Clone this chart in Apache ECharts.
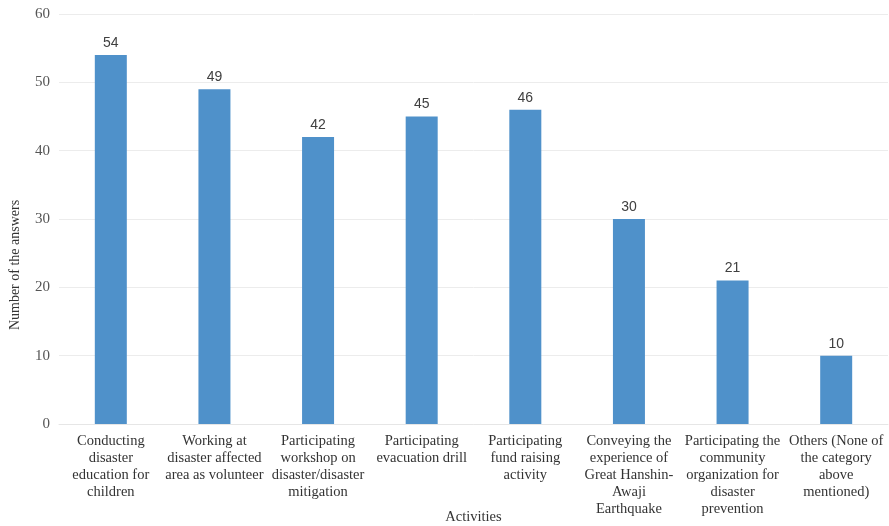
<!DOCTYPE html>
<html>
<head>
<meta charset="utf-8">
<script src="https://cdn.jsdelivr.net/npm/echarts@6/dist/echarts.min.js"></script>
<style>
  html, body { margin: 0; padding: 0; background: #fff; }
  #chart { width: 889px; height: 526px; }
</style>
</head>
<body>
<div id="chart"></div>
<script>
var categories = [
    'Conducting\ndisaster\neducation for\nchildren',
    'Working at\ndisaster affected\narea as volunteer',
    'Participating\nworkshop on\ndisaster/disaster\nmitigation',
    'Participating\nevacuation drill',
    'Participating\nfund raising\nactivity',
    'Conveying the\nexperience of\nGreat Hanshin-\nAwaji\nEarthquake',
    'Participating the\ncommunity\norganization for\ndisaster\nprevention',
    'Others (None of\nthe category\nabove\nmentioned)'
];
var answers = [54, 49, 42, 45, 46, 30, 21, 10];
var yTicks = { min: 0, max: 60, interval: 10 };

var myChart = echarts.init(document.getElementById('chart'));

var option = {
    animation: false,
    grid: {
        left: 59,
        right: 1,
        top: 14,
        bottom: 102,
        containLabel: false,
        outerBoundsMode: 'none'
    },
    graphic: [{
        // y axis title sits lower than the plot centre in the original
        type: 'text',
        x: 15,
        y: 265,
        rotation: Math.PI / 2,
        style: {
            text: 'Number of the answers',
            fontFamily: 'Liberation Serif',
            fontSize: 14,
            fill: '#333',
            align: 'center',
            verticalAlign: 'middle'
        }
    }],
    xAxis: {
        type: 'category',
        data: categories,
        name: 'Activities',
        nameLocation: 'middle',
        nameGap: 86,
        nameMoveOverlap: false,
        nameTextStyle: {
            fontFamily: 'Liberation Serif',
            fontSize: 14.5,
            color: '#333'
        },
        axisLine: {
            lineStyle: { color: '#e6e6e6' }
        },
        axisTick: { show: false },
        axisLabel: {
            interval: 0,
            margin: 9,
            fontFamily: 'Liberation Serif',
            fontSize: 14.5,
            lineHeight: 17,
            color: '#333'
        }
    },
    yAxis: {
        type: 'value',
        min: yTicks.min,
        max: yTicks.max,
        interval: yTicks.interval,
        axisLine: { show: false },
        axisTick: { show: false },
        splitLine: {
            lineStyle: { color: '#ececec' }
        },
        axisLabel: {
            margin: 9,
            fontFamily: 'Liberation Serif',
            fontSize: 15,
            color: '#555'
        }
    },
    series: [{
        type: 'bar',
        data: answers,
        barWidth: 32,
        itemStyle: { color: '#4f91ca' },
        label: {
            show: true,
            position: 'top',
            distance: 5,
            fontFamily: 'Liberation Sans',
            fontSize: 14,
            color: '#404040'
        }
    }]
};

myChart.setOption(option);
</script>
</body>
</html>
